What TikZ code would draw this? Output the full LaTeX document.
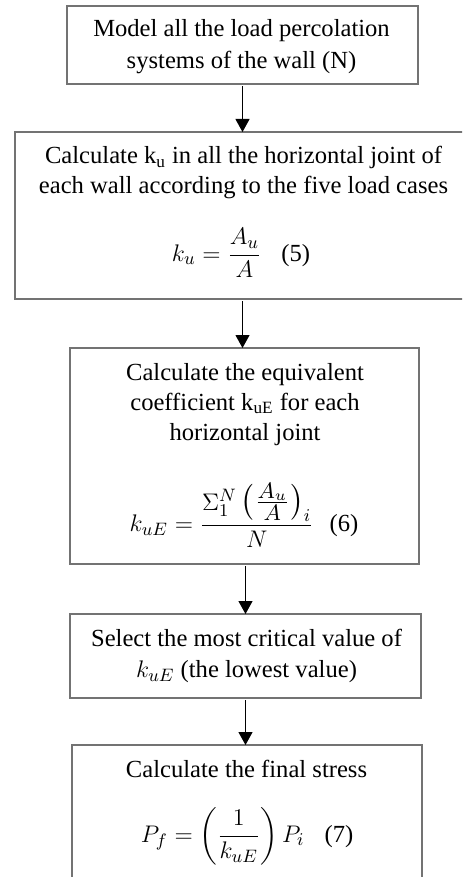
\documentclass[tikz,border=0pt]{standalone}
\usepackage{amsmath}
\usepackage{fontspec}
\setmainfont{Liberation Serif}
\usetikzlibrary{arrows.meta}
\begin{document}
\begin{tikzpicture}[x=0.5pt,y=-0.5pt,
  box/.style={draw=black!55, line width=0.6pt, inner sep=0pt, outer sep=0pt, rectangle},
  txt/.style={anchor=base, inner sep=0pt, outer sep=0pt, font=\fontsize{12.3}{15}\selectfont},
  arr/.style={draw=black, line width=0.55pt, shorten <=1.2pt, -{Triangle[length=6.5pt,width=7pt]}}]
\useasboundingbox (0,0) rectangle (462,877);
\clip (0,0) rectangle (462,877);

% boxes
\node[box, minimum width=175.5pt, minimum height=39pt] (b1) at (242.5,45) {};
\node[box, minimum width=228.5pt, minimum height=83.5pt] (b2) at (243.5,215.5) {};
\node[box, minimum width=174.5pt, minimum height=108pt] (b3) at (244.5,456) {};
\node[box, minimum width=175.5pt, minimum height=42pt] (b4) at (245.5,656) {};
\node[box, minimum width=175pt, minimum height=80pt] (b5) at (247,825) {};

% box 1 text
\node[txt] (t1a) at (241.5,36.7) {Model all the load percolation};
\node[txt] (t1b) at (241.5,68.3) {systems of the wall (N)};

% box 2 text
\node[txt] (t2a) at (243.5,164) {Calculate k\textsubscript{u} in all the horizontal joint of};
\node[txt] (t2b) at (243.5,194) {each wall according to the five load cases};
\node[txt] (t2c) at (241,261) {$k_u = \dfrac{A_u}{A}$\hspace{10pt}(5)};

% box 3 text
\node[txt] (t3a) at (245,380) {Calculate the equivalent};
\node[txt] (t3b) at (245,410) {coefficient k\textsubscript{uE} for each};
\node[txt] (t3c) at (245,440) {horizontal joint};
\node[txt] (t3d) at (244,531) {$k_{uE} = \dfrac{\Sigma_1^N\, \scalebox{1.25}{$\left(\frac{A_u}{A}\right)$}_{i}}{N}$\hspace{8pt}(6)};

% box 4 text
\node[txt] (t4a) at (246.5,646) {Select the most critical value of};
\node[txt] (t4b) at (246.5,677) {$k_{uE}$ (the lowest value)};

% box 5 text
\node[txt] (t5a) at (246.5,777) {Calculate the final stress};
\node[txt] (t5b) at (247,842) {$P_f = \left(\dfrac{1}{k_{uE}}\right) P_i$\hspace{10pt}(7)};

% arrows
\draw[arr] (b1.south) -- (b1.south |- b2.north);
\draw[arr] (b1.south |- b2.south) -- (b1.south |- b3.north);
\draw[arr] (b4.north |- b3.south) -- (b4.north);
\draw[arr] (b4.south) -- (b4.south |- b5.north);
\end{tikzpicture}
\end{document}
